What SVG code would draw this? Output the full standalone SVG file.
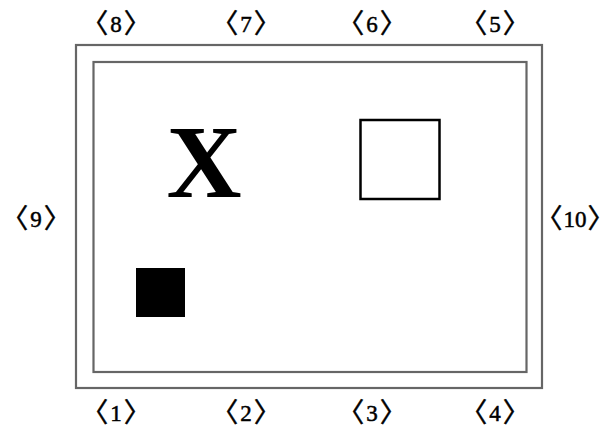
<svg xmlns="http://www.w3.org/2000/svg" width="616" height="432" viewBox="0 0 616 432">
<style>
.frame{fill:none;stroke:#666;stroke-width:2.2}
.lbl{font-family:"Liberation Serif",serif;font-size:23px;fill:#000;text-anchor:middle;stroke:#000;stroke-width:0.5}
.b{font-family:"Noto Sans CJK SC","Noto Sans CJK JP",sans-serif;font-size:27px;stroke-width:0.5}
</style>
<rect width="616" height="432" fill="#fff"/>
<g id="outer"><rect class="frame" x="76" y="45" width="466" height="343"/></g>
<g id="inner"><rect class="frame" x="93.5" y="62" width="433" height="310"/></g>
<g id="x-mark"><text x="204" y="197" font-family="Liberation Serif,serif" font-weight="bold" font-size="104" text-anchor="middle" fill="#000">X</text></g>
<g id="open-square"><rect x="360.5" y="120" width="79" height="79" fill="none" stroke="#000" stroke-width="2.5"/></g>
<g id="filled-square"><rect x="136" y="268" width="49" height="49" fill="#000"/></g>
<g id="labels">
<text class="lbl" x="116" y="32"><tspan class="b" dy="1">〈</tspan><tspan dx="2" dy="-1">8</tspan><tspan class="b" dx="2" dy="1">〉</tspan></text>
<text class="lbl" x="246" y="32"><tspan class="b" dy="1">〈</tspan><tspan dx="2" dy="-1">7</tspan><tspan class="b" dx="2" dy="1">〉</tspan></text>
<text class="lbl" x="372" y="32"><tspan class="b" dy="1">〈</tspan><tspan dx="2" dy="-1">6</tspan><tspan class="b" dx="2" dy="1">〉</tspan></text>
<text class="lbl" x="495" y="32"><tspan class="b" dy="1">〈</tspan><tspan dx="2" dy="-1">5</tspan><tspan class="b" dx="2" dy="1">〉</tspan></text>
<text class="lbl" x="36" y="227"><tspan class="b" dy="1">〈</tspan><tspan dx="2" dy="-1">9</tspan><tspan class="b" dx="2" dy="1">〉</tspan></text>
<text class="lbl" x="575" y="227"><tspan class="b" dy="1">〈</tspan><tspan dx="1" dy="-1">10</tspan><tspan class="b" dx="1" dy="1">〉</tspan></text>
<text class="lbl" x="116" y="421"><tspan class="b" dy="1">〈</tspan><tspan dx="2" dy="-1">1</tspan><tspan class="b" dx="2" dy="1">〉</tspan></text>
<text class="lbl" x="246" y="421"><tspan class="b" dy="1">〈</tspan><tspan dx="2" dy="-1">2</tspan><tspan class="b" dx="2" dy="1">〉</tspan></text>
<text class="lbl" x="372" y="421"><tspan class="b" dy="1">〈</tspan><tspan dx="2" dy="-1">3</tspan><tspan class="b" dx="2" dy="1">〉</tspan></text>
<text class="lbl" x="495" y="421"><tspan class="b" dy="1">〈</tspan><tspan dx="2" dy="-1">4</tspan><tspan class="b" dx="2" dy="1">〉</tspan></text>
</g>
<g id="connectors"></g>
</svg>
